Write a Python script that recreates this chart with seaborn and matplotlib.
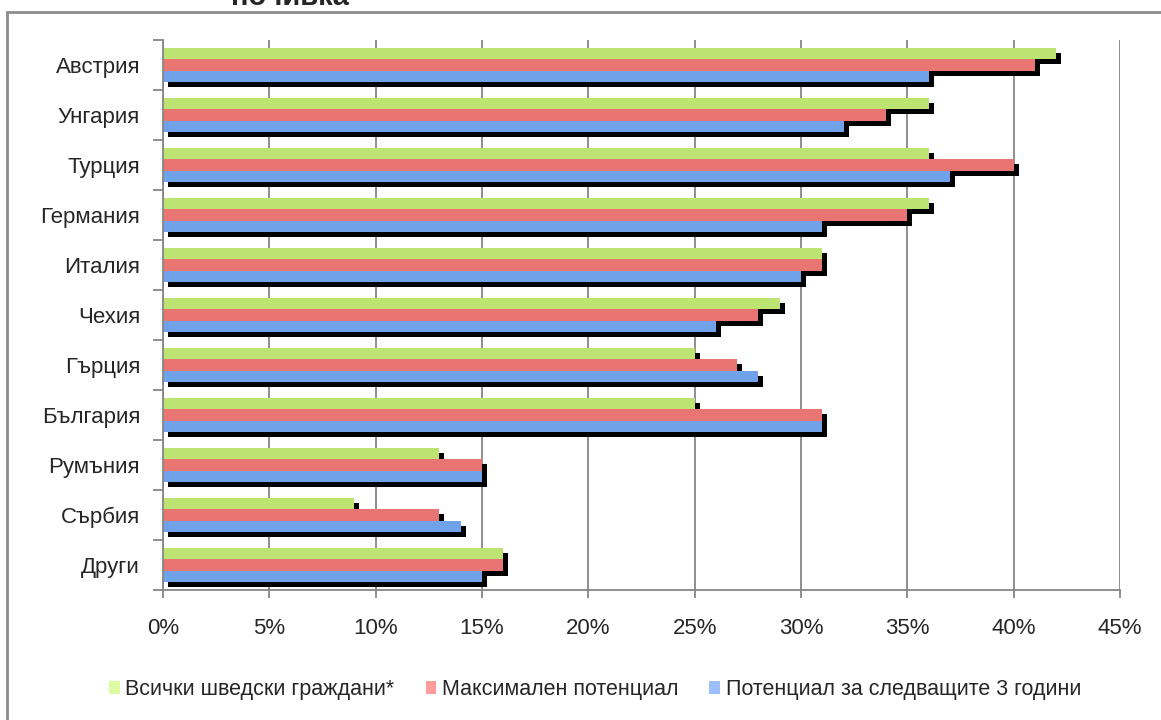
import numpy as np
import pandas as pd
import matplotlib
matplotlib.use("Agg")
import matplotlib.pyplot as plt
import matplotlib.patheffects as pe
from matplotlib.patches import Rectangle, Patch
import seaborn as sns

countries = ['Австрия', 'Унгария', 'Турция', 'Германия', 'Италия', 'Чехия',
             'Гърция', 'България', 'Румъния', 'Сърбия', 'Други']
series = ['Всички шведски граждани*', 'Максимален потенциал',
          'Потенциал за следващите 3 години']
all_swedes = [42, 36, 36, 36, 31, 29, 25, 25, 13, 9, 16]
max_potential = [41, 34, 40, 35, 31, 28, 27, 31, 15, 13, 16]
next_3_years = [36, 32, 37, 31, 30, 26, 28, 31, 15, 14, 15]

bar_colors = ['#bde372', '#e97573', '#70a2ea']
legend_colors = ['#dcfca4', '#ff9c9a', '#9cbffb']

df = pd.DataFrame({
    'Държава': countries * 3,
    'Серия': [s for s in series for _ in countries],
    'Стойност': all_swedes + max_potential + next_3_years,
})

sns.set_style('white')
plt.rcParams['font.family'] = ['Liberation Sans', 'DejaVu Sans']

fig = plt.figure(figsize=(11.61, 7.2), dpi=100)
ax = fig.add_axes([0.1404, 0.1806, 0.8243, 0.7638])

sns.barplot(data=df, y='Държава', x='Стойност', hue='Серия', orient='h',
            palette=bar_colors, width=0.68, saturation=1, legend=False, ax=ax)

shadow = [pe.SimplePatchShadow(offset=(3.6, -3.6), shadow_rgbFace='black', alpha=1.0),
          pe.Normal()]
for bar in ax.patches:
    bar.set_path_effects(shadow)
    bar.set_edgecolor('none')

grey = '#868686'
ax.set_xlim(0, 45)
ax.set_ylim(10.5, -0.5)
ax.set_xticks(np.arange(0, 46, 5))
ax.set_xticklabels([f'{v}%' for v in range(0, 46, 5)])
ax.xaxis.grid(True, color=grey, linewidth=1.3)
ax.set_axisbelow(True)
ax.set_xlabel('')
ax.set_ylabel('')

ax.set_yticks(np.arange(-0.5, 11, 1), minor=True)
ax.tick_params(axis='y', which='major', length=0, pad=16.5, labelsize=16)
ax.tick_params(axis='y', which='minor', length=7, width=1.3, color=grey, left=True)
ax.tick_params(axis='x', length=6, width=1.3, color=grey, bottom=True,
               pad=14, labelsize=16)
for name, spine in ax.spines.items():
    if name in ('left', 'bottom'):
        spine.set_color(grey)
        spine.set_linewidth(1.3)
    else:
        spine.set_visible(False)

handles = [Patch(facecolor=c, edgecolor='none') for c in legend_colors]
fig.legend(handles, series, loc='center', bbox_to_anchor=(0.5125, 0.042), ncol=3,
           frameon=False, fontsize=15.5, handlelength=0.5, handleheight=0.5,
           handletextpad=0.25, columnspacing=1.45)

fig.patches.append(Rectangle((0.006, -0.1), 1.1, 1.083, transform=fig.transFigure,
                             fill=False, edgecolor='#8c8c8c', linewidth=2))
fig.text(0.25, 0.993, 'почивка', fontsize=21, fontweight='bold',
         ha='center', va='baseline')

fig.savefig('out.png', dpi=100)
